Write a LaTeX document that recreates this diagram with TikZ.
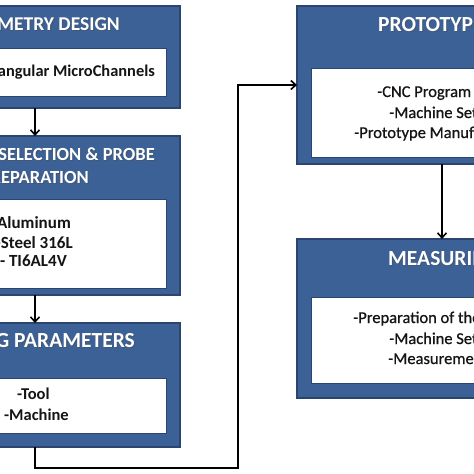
\documentclass[tikz,border=0pt]{standalone}
\usepackage{fontspec}
\setmainfont{Carlito}
\usetikzlibrary{arrows.meta}
\definecolor{boxblue}{HTML}{3C6196}
\definecolor{boxedge}{HTML}{2A4670}
\definecolor{inktxt}{HTML}{141414}
\tikzset{
  outerbox/.style={fill=boxblue,draw=boxedge,line width=1.2pt},
  innerbox/.style={fill=white,draw=boxedge,line width=1pt},
  ttl/.style={text=white,font=\bfseries\fontsize{#1}{24}\selectfont,inner sep=0pt},
  shd/.style={text=black!70,font=\bfseries\fontsize{#1}{24}\selectfont,inner sep=0pt,opacity=0.5,xshift=1pt,yshift=-1pt},
  bodytxt/.style={text=inktxt,font=\bfseries\fontsize{#1}{19}\selectfont,inner sep=0pt},
  rbodytxt/.style={text=inktxt,font=\addfontfeature{FakeBold=0.7}\fontsize{16.5}{20}\selectfont,inner sep=0pt},
  conn/.style={draw=black,line width=1.6pt,-{Straight Barb[length=5pt,width=9pt,line width=1.6pt]}},
  x=1pt,y=-1pt
}
\begin{document}
\begin{tikzpicture}
\useasboundingbox (0,0) rectangle (474,474);
\fill[white] (0,0) rectangle (474,474);
\clip (0,0) rectangle (474,474);
% left column
\draw[outerbox] (-60,6) rectangle (180,108);
\draw[innerbox] (-60,48) rectangle (166,96);
\draw[outerbox] (-60,136) rectangle (180,295);
\draw[innerbox] (-60,199) rectangle (166,288);
\draw[outerbox] (-60,323) rectangle (180,447);
\draw[innerbox] (-60,378) rectangle (166,433);
% right column
\draw[outerbox] (297,6) rectangle (560,164);
\draw[innerbox] (311,68) rectangle (550,157);
\draw[outerbox] (297,239) rectangle (560,398);
\draw[innerbox] (311,297) rectangle (550,383);
% anchor coordinates
\coordinate (b1s) at (35,108);
\coordinate (b2n) at (35,136);
\coordinate (b2s) at (35,295);
\coordinate (b3n) at (35,323);
\coordinate (b3s) at (35,447);
\coordinate (c1) at (35,468);
\coordinate (c2) at (238,468);
\coordinate (c3) at (238,85);
\coordinate (b4w) at (297,85);
\coordinate (b4s) at (442,164);
\coordinate (b5n) at (442,239);
% title shadows
\node[shd=19.5,anchor=base east] (s1) at (120,30) {GEOMETRY DESIGN};
\node[shd=18.5,anchor=base east] (s2a) at (155,160) {MATERIAL SELECTION \& PROBE};
\node[shd=18.5,anchor=base east] (s2b) at (89,183) {PREPARATION};
\node[shd=21.5,anchor=base east] (s3) at (135,347) {MACHINING PARAMETERS};
\node[shd=21.5,anchor=base west] (s4) at (378,31) {PROTOTYPING};
\node[shd=21.5,anchor=base west] (s5) at (388,265) {MEASURING};
% titles
\node[ttl=19.5,anchor=base east] (t1) at (120,30) {GEOMETRY DESIGN};
\node[ttl=18.5,anchor=base east] (t2a) at (155,160) {MATERIAL SELECTION \& PROBE};
\node[ttl=18.5,anchor=base east] (t2b) at (89,183) {PREPARATION};
\node[ttl=21.5,anchor=base east] (t3) at (135,347) {MACHINING PARAMETERS};
\node[ttl=21.5,anchor=base west] (t4) at (378,31) {PROTOTYPING};
\node[ttl=21.5,anchor=base west] (t5) at (388,265) {MEASURING};
% body texts left
\node[bodytxt=16.4,anchor=base east] (l1) at (155,76) {-Rectangular MicroChannels};
\node[bodytxt=17,anchor=base east] (l2a) at (71,228) {-Aluminum};
\node[bodytxt=17,anchor=base east] (l2b) at (73,248) {-Steel 316L};
\node[bodytxt=17,anchor=base east] (l2c) at (67,266) {- TI6AL4V};
\node[bodytxt=16.5,anchor=base west] (l3a) at (17,399) {-Tool};
\node[bodytxt=16.5,anchor=base west] (l3b) at (4,420) {-Machine};
% body texts right
\node[rbodytxt,anchor=base west] (r4a) at (377,97) {-CNC Program};
\node[rbodytxt,anchor=base west] (r4b) at (389,118) {-Machine Setup};
\node[rbodytxt,anchor=base west] (r4c) at (354,138) {-Prototype Manufacturing};
\node[rbodytxt,anchor=base west] (r5a) at (353,323) {-Preparation of the};
\node[rbodytxt,anchor=base west] (r5b) at (389,344) {-Machine Setup};
\node[rbodytxt,anchor=base west] (r5c) at (388,364) {-Measurement};
% connectors
\draw[conn] (b1s) -- (b2n);
\draw[conn] (b2s) -- (b3n);
\draw[conn] (b3s) -- (c1) -- (c2) -- (c3) -- (b4w);
\draw[conn] (b4s) -- (b5n);
\end{tikzpicture}
\end{document}
